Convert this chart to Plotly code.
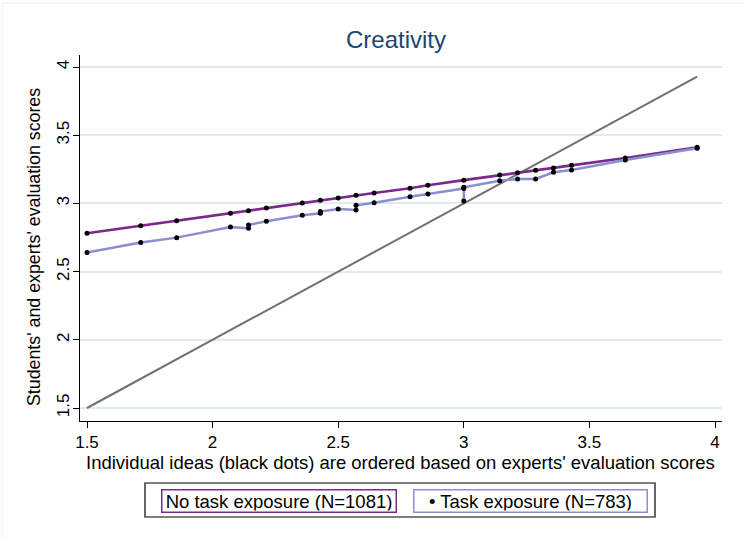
import plotly.graph_objects as go

# Reference diagonal (45-degree line)
diag_x = [1.5, 3.929]
diag_y = [1.5, 3.929]

# No task exposure (purple)
no_x = [1.5, 1.714, 1.857, 2.071, 2.143, 2.214, 2.357, 2.429, 2.5, 2.571, 2.643,
        2.786, 2.857, 3.0, 3.143, 3.214, 3.286, 3.357, 3.429, 3.643, 3.929]
no_y = [2.781, 2.837, 2.873, 2.927, 2.946, 2.966, 3.003, 3.023, 3.040, 3.059, 3.076,
        3.111, 3.133, 3.170, 3.208, 3.225, 3.243, 3.260, 3.279, 3.333, 3.411]

# Task exposure (lavender)
te_x = [1.5, 1.714, 1.857, 2.071, 2.143, 2.143, 2.214, 2.357, 2.429, 2.429, 2.5,
        2.571, 2.571, 2.643, 2.786, 2.857, 3.0, 3.0, 3.0, 3.143, 3.214, 3.286,
        3.357, 3.429, 3.643, 3.929]
te_y = [2.640, 2.713, 2.749, 2.827, 2.817, 2.842, 2.869, 2.913, 2.927, 2.940, 2.959,
        2.952, 2.986, 3.005, 3.049, 3.069, 3.110, 3.018, 3.118, 3.166, 3.179, 3.179,
        3.228, 3.245, 3.318, 3.404]

x_ticks = [1.5, 2, 2.5, 3, 3.5, 4]
y_ticks = [1.5, 2, 2.5, 3, 3.5, 4]

title_text = "Creativity"
x_title = "Individual ideas (black dots) are ordered based on experts' evaluation scores"
y_title = "Students' and experts' evaluation scores"
legend_labels = ["No task exposure (N=1081)", "\u2022 Task exposure (N=783)"]

PURPLE = "#7b2a8c"
LAV = "#8b8fd0"
GRAY = "#707070"
FONT = "Liberation Sans, Arial, sans-serif"

W, H = 743, 538
L, R, T, B = 80, 21, 55, 117
pw, ph = W - L - R, H - T - B


def px(x):
    return (x - L) / pw


def py(y):
    return (H - B - y) / ph


fig = go.Figure()
fig.add_trace(go.Scatter(x=diag_x, y=diag_y, mode="lines",
                         line=dict(color=GRAY, width=2), showlegend=False, hoverinfo="skip"))
fig.add_trace(go.Scatter(x=no_x, y=no_y, mode="lines+markers",
                         line=dict(color=PURPLE, width=2.7),
                         marker=dict(color="black", size=5), showlegend=False))
fig.add_trace(go.Scatter(x=te_x, y=te_y, mode="lines+markers",
                         line=dict(color=LAV, width=2.5),
                         marker=dict(color="black", size=5), showlegend=False))

fig.update_layout(
    width=W, height=H,
    margin=dict(l=L, r=R, t=T, b=B),
    paper_bgcolor="white", plot_bgcolor="white",
    font=dict(family=FONT, color="black", size=17),
    title=dict(text=title_text, x=px(396), xref="paper", xanchor="center",
               y=1 - 40 / H, yref="container", yanchor="middle",
               font=dict(size=24, color="#1a476f", family=FONT)),
    xaxis=dict(range=[1.5 - 7 / 251.2, 4 + 7 / 251.2], tickvals=x_ticks,
               ticktext=[f"{v:g}" for v in x_ticks],
               showgrid=False, zeroline=False, showline=True, linecolor="black",
               linewidth=1, ticks="outside", ticklen=6, tickcolor="black",
               tickfont=dict(size=17)),
    yaxis=dict(range=[1.5 - 13 / 136.4, 4 + 12 / 136.4], tickvals=y_ticks,
               ticktext=[f"{v:g}" for v in y_ticks],
               showgrid=True, gridcolor="#e1ecec", gridwidth=1.5, zeroline=False,
               showline=True, linecolor="black", linewidth=1, ticks="outside",
               ticklen=6, tickcolor="black", tickangle=-90, tickfont=dict(size=17),
               ticklabelstandoff=-3),
)

# Axis titles
fig.add_annotation(text=x_title, x=px(400), y=py(462), xref="paper", yref="paper",
                   showarrow=False, font=dict(size=18.5), xanchor="center", yanchor="middle")
fig.add_annotation(text=y_title, x=px(34), y=py(247), xref="paper", yref="paper",
                   showarrow=False, font=dict(size=17.8), textangle=-90,
                   xanchor="center", yanchor="middle")

# Legend
fig.add_shape(type="rect", xref="paper", yref="paper",
              x0=px(145), x1=px(655), y0=py(483), y1=py(517),
              line=dict(color="black", width=1.2), fillcolor="white", layer="below")
fig.add_annotation(text=legend_labels[0], x=px(278.5), y=py(500.5), xref="paper", yref="paper",
                   showarrow=False, font=dict(size=18.5), xanchor="center", yanchor="middle",
                   width=231, height=19, bordercolor=PURPLE, borderwidth=1.5, borderpad=1,
                   align="center")
fig.add_annotation(text=legend_labels[1], x=px(530), y=py(500.5), xref="paper", yref="paper",
                   showarrow=False, font=dict(size=18.5), xanchor="center", yanchor="middle",
                   width=230, height=19, bordercolor=LAV, borderwidth=1.5, borderpad=1,
                   align="center")

# Faint outer graph-region edges
fig.add_shape(type="line", xref="paper", yref="paper", x0=px(2), x1=px(743), y0=py(3), y1=py(3),
              line=dict(color="#ececec", width=1))
fig.add_shape(type="line", xref="paper", yref="paper", x0=px(2), x1=px(2), y0=py(3), y1=py(538),
              line=dict(color="#eaf4f4", width=1))

fig.write_html("out.html")
